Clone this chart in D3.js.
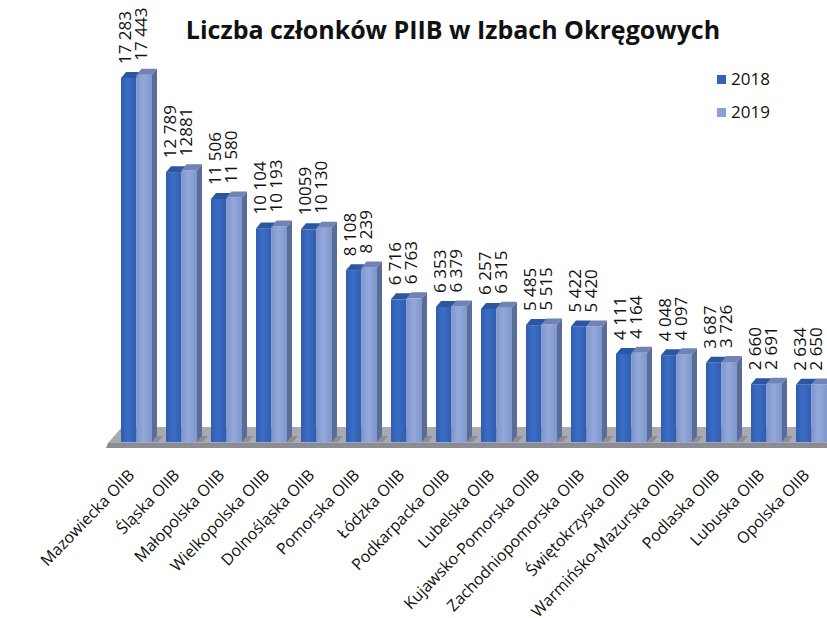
<!DOCTYPE html>
<html>
<head>
<meta charset="utf-8">
<script src="https://cdnjs.cloudflare.com/ajax/libs/d3/7.8.5/d3.min.js"></script>
<style>
  body { margin: 0; background: #fff; }
  text { font-family: "Open Sans", "Liberation Sans", sans-serif; fill: #111; }
</style>
</head>
<body>
<svg id="chart"></svg>
<script>
var categories = ["Mazowiecka OIIB", "Śląska OIIB", "Małopolska OIIB", "Wielkopolska OIIB",
  "Dolnośląska OIIB", "Pomorska OIIB", "Łódzka OIIB", "Podkarpacka OIIB", "Lubelska OIIB",
  "Kujawsko-Pomorska OIIB", "Zachodniopomorska OIIB", "Świętokrzyska OIIB",
  "Warmińsko-Mazurska OIIB", "Podlaska OIIB", "Lubuska OIIB", "Opolska OIIB"];
var seriesNames = ["2018", "2019"];
var values2018 = [17283, 12789, 11506, 10104, 10059, 8108, 6716, 6353, 6257, 5485, 5422, 4111, 4048, 3687, 2660, 2634];
var values2019 = [17443, 12881, 11580, 10193, 10130, 8239, 6763, 6379, 6315, 5515, 5420, 4164, 4097, 3726, 2691, 2650];
// labels as printed on the original (spacing is not consistent there)
var labels2018 = ["17 283", "12 789", "11 506", "10 104", "10059", "8 108", "6 716", "6 353",
  "6 257", "5 485", "5 422", "4 111", "4 048", "3 687", "2 660", "2 634"];
var labels2019 = ["17 443", "12881", "11 580", "10 193", "10 130", "8 239", "6 763", "6 379",
  "6 315", "5 515", "5 420", "4 164", "4 097", "3 726", "2 691", "2 650"];

var width = 827, height = 618;
var dx = 5, dy = -6; // 3d depth offset

var svg = d3.select("#chart").attr("width", width).attr("height", height);

var defs = svg.append("defs");
function grad(id, edge, mid) {
  var g = defs.append("linearGradient").attr("id", id).attr("x1", 0).attr("x2", 1).attr("y1", 0).attr("y2", 0);
  g.append("stop").attr("offset", "0%").attr("stop-color", edge);
  g.append("stop").attr("offset", "45%").attr("stop-color", mid);
  g.append("stop").attr("offset", "100%").attr("stop-color", edge);
}
grad("g2018", "#2f5cae", "#3c6dc6");
grad("g2019", "#7f96cc", "#93a9dc");

var front = { "2018": "url(#g2018)", "2019": "url(#g2019)" };
var topCol = { "2018": "#2b56a2", "2019": "#6f84b4" };
var legendCol = { "2018": "#3563b8", "2019": "#8ba1d6" };

var x = d3.scaleBand().domain(categories).range([121, 827]).paddingInner(0.311).paddingOuter(0);
var xs = d3.scaleBand().domain(seriesNames).range([0, x.bandwidth()]);
var y = d3.scaleLinear().domain([0, 18000]).range([440, 63]);

var data = categories.map(function (c, i) {
  return {
    cat: c,
    bars: [
      { s: "2018", v: values2018[i], label: labels2018[i] },
      { s: "2019", v: values2019[i], label: labels2019[i] }
    ]
  };
});

// floor
var floorY = y(0);
svg.append("path")
  .attr("d", "M108," + (floorY + 3) + " L122," + (floorY - 13) + " L840," + (floorY - 13) +
    " L840," + (floorY + 3) + " Z")
  .attr("fill", "#a9a9b1");
svg.append("path")
  .attr("d", "M108," + (floorY + 3) + " L840," + (floorY + 3) + " L840," + (floorY + 8) +
    " L106," + (floorY + 8) + " Z")
  .attr("fill", "#8c8c94");

var groups = svg.selectAll(".grp")
  .data(data)
  .enter().append("g")
  .attr("class", "grp")
  .attr("transform", function (d) { return "translate(" + x(d.cat) + ",0)"; });

// shadow of each group on the floor
groups.append("path")
  .attr("d", function () {
    var r = x.bandwidth();
    return "M" + r + "," + (floorY + 2) + " L" + (r + dx) + "," + (floorY + 2 + dy) +
      " L" + (r + dx + 6) + "," + (floorY + 2 + dy) + " L" + (r + 6) + "," + (floorY + 2) + " Z";
  })
  .attr("fill", "#8d8d97");

var bw = xs.bandwidth();
var bars = groups.selectAll(".bar")
  .data(function (d) { return d.bars; })
  .enter().append("g")
  .attr("class", "bar");

bars.append("rect")
  .attr("x", function (d) { return xs(d.s); })
  .attr("y", function (d) { return y(d.v); })
  .attr("width", bw)
  .attr("height", function (d) { return floorY + 2 - y(d.v); })
  .attr("fill", function (d) { return front[d.s]; });

bars.append("path")
  .attr("d", function (d) {
    var x0 = xs(d.s), t = y(d.v);
    return "M" + x0 + "," + t + " L" + (x0 + bw) + "," + t + " L" + (x0 + bw + dx) + "," + (t + dy) +
      " L" + (x0 + dx) + "," + (t + dy) + " Z";
  })
  .attr("fill", function (d) { return topCol[d.s]; });

// right side face (only the 2019 bar shows it)
bars.filter(function (d) { return d.s === "2019"; })
  .append("path")
  .attr("d", function (d) {
    var x1 = xs(d.s) + bw, t = y(d.v);
    return "M" + x1 + "," + t + " L" + (x1 + dx) + "," + (t + dy) + " L" + (x1 + dx) + "," + (floorY + 2 + dy) +
      " L" + x1 + "," + (floorY + 2) + " Z";
  })
  .attr("fill", "#5a6d98");

// value labels, rotated
bars.append("text")
  .attr("transform", function (d) {
    return "translate(" + (xs(d.s) + bw / 2 + 2.5) + "," + (y(d.v) - 14) + ") rotate(-90)";
  })
  .attr("font-size", 17)
  .text(function (d) { return d.label; });

// category labels
groups.append("text")
  .attr("transform", function () {
    return "translate(" + (x.bandwidth() / 2 - 1) + ",476) rotate(-46)";
  })
  .attr("text-anchor", "end")
  .attr("font-size", 16)
  .text(function (d) { return d.cat; });

// title
svg.append("text")
  .attr("x", 453).attr("y", 39)
  .attr("text-anchor", "middle")
  .attr("font-size", 25)
  .attr("font-weight", "bold")
  .text("Liczba członków PIIB w Izbach Okręgowych");

// legend
var legend = svg.selectAll(".leg")
  .data(seriesNames)
  .enter().append("g")
  .attr("class", "leg")
  .attr("transform", function (d, i) { return "translate(717," + (75 + i * 33) + ")"; });
legend.append("rect").attr("width", 9).attr("height", 9)
  .attr("fill", function (d) { return legendCol[d]; });
legend.append("text").attr("x", 14).attr("y", 10).attr("font-size", 17)
  .text(function (d) { return d; });
</script>
</body>
</html>
